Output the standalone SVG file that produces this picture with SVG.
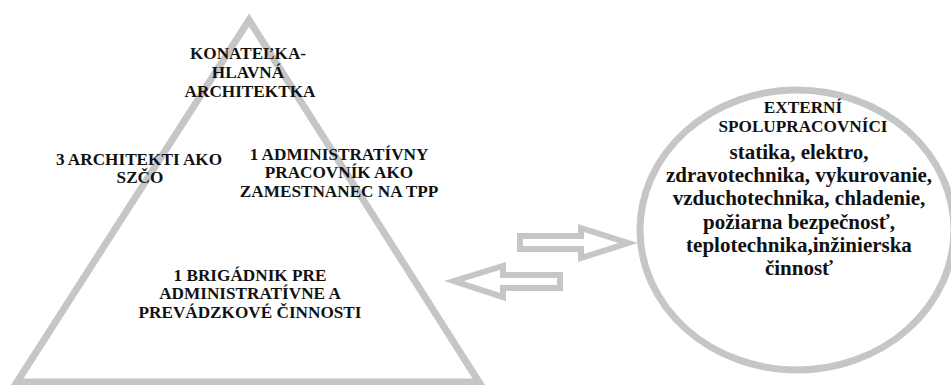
<svg xmlns="http://www.w3.org/2000/svg" width="951" height="385" viewBox="0 0 951 385">
<style>
.shape{fill:none;stroke:#c6c6c6;stroke-width:7;stroke-linejoin:miter;stroke-miterlimit:10}
.arrow{fill:#fff;stroke:#c6c6c6;stroke-width:6;stroke-linejoin:miter;stroke-miterlimit:10}
text{font-family:'Liberation Serif','DejaVu Serif',serif;font-weight:bold;fill:#111;text-anchor:middle}
.c{font-size:17.2px}
.b{font-size:21px}
</style>
<rect width="951" height="385" fill="#fff"/>
<g id="pyramid">
<polygon class="shape" points="249,20 479,382 17,382"/>
</g>
<g id="externi">
<ellipse class="shape" cx="797" cy="230" rx="157" ry="140"/>
</g>
<g id="connectors">
<polygon class="arrow" points="520,236 581,236 581,228 628,243 581,258 581,249 520,249"/>
<polygon class="arrow" points="560,275 503,275 503,266 454,281 503,297 503,288 560,288"/>
</g>
<g id="konatelka">
<text class="c" x="248" y="59">KONATEĽKA-</text>
<text class="c" x="248" y="78">HLAVNÁ</text>
<text class="c" x="250" y="97">ARCHITEKTKA</text>
</g>
<g id="architekti">
<text class="c" x="139" y="165">3 ARCHITEKTI AKO</text>
<text class="c" x="140" y="183">SZČO</text>
</g>
<g id="administrativny">
<text class="c" x="339" y="160">1 ADMINISTRATÍVNY</text>
<text class="c" x="339" y="178">PRACOVNÍK AKO</text>
<text class="c" x="339" y="197">ZAMESTNANEC NA TPP</text>
</g>
<g id="brigadnik">
<text class="c" x="250" y="281">1 BRIGÁDNIK PRE</text>
<text class="c" x="250" y="299">ADMINISTRATÍVNE A</text>
<text class="c" x="250" y="318">PREVÁDZKOVÉ ČINNOSTI</text>
</g>
<g id="externi-text">
<text class="c" x="803" y="113">EXTERNÍ</text>
<text class="c" x="803" y="132">SPOLUPRACOVNÍCI</text>
<text class="b" x="799" y="159">statika, elektro,</text>
<text class="b" x="799" y="182">zdravotechnika, vykurovanie,</text>
<text class="b" x="799" y="205">vzduchotechnika, chladenie,</text>
<text class="b" x="799" y="229">požiarna bezpečnosť,</text>
<text class="b" x="799" y="252">teplotechnika,inžinierska</text>
<text class="b" x="799" y="275">činnosť</text>
</g>
</svg>
